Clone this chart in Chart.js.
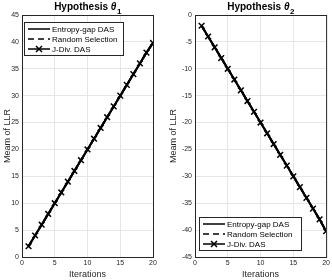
<!DOCTYPE html>
<html>
<head>
<meta charset="utf-8">
<script src="https://cdn.jsdelivr.net/npm/chart.js@4/dist/chart.umd.min.js"></script>
<style>
  body { margin: 0; background: #fff; }
  .wrap { display: flex; width: 332px; height: 280px; }
  .cell { width: 166px; height: 280px; position: relative; }
</style>
</head>
<body>
<div class="wrap">
  <div class="cell"><canvas id="chart1"></canvas></div>
  <div class="cell"><canvas id="chart2"></canvas></div>
</div>
<script>
// values
const iterations = [1,2,3,4,5,6,7,8,9,10,11,12,13,14,15,16,17,18,19,20];
const theta1Entropy = [2,4,6,8,10,12,14,16,18,20,22,24,26,28,30,32,34,36,38,39.8];
const theta1Random  = [2,4,6,8,10,12,14,16,18,20,22,24,26,28,30,32,34,36,38,39.8];
const theta1JDiv    = [2,4,6,8,10,12,14,16,18,20,22,24,26,28,30,32,34,36,38,39.8];
const theta2Entropy = [-2,-4,-6,-8,-10,-12,-14,-16,-18,-20,-22,-24,-26,-28,-30,-32,-34,-36,-38,-40.2];
const theta2Random  = [-2,-4,-6,-8,-10,-12,-14,-16,-18,-20,-22,-24,-26,-28,-30,-32,-34,-36,-38,-40.2];
const theta2JDiv    = [-2,-4,-6,-8,-10,-12,-14,-16,-18,-20,-22,-24,-26,-28,-30,-32,-34,-36,-38,-40.2];
const seriesNames = ['Entropy-gap DAS', 'Random Selection', 'J-Div. DAS'];

const FONT = 'Liberation Sans, Arial, Helvetica, sans-serif';

// box round the plot area, like matlab "box on"
const boxPlugin = {
    id: 'box',
    afterDraw(chart) {
        const a = chart.chartArea, c = chart.ctx;
        c.save();
        c.strokeStyle = '#262626';
        c.lineWidth = 1;
        c.strokeRect(a.left + 0.5, a.top + 0.5, a.right - a.left, a.bottom - a.top);
        c.restore();
    }
};

// title with a real subscript
const subTitle = {
    id: 'subTitle',
    afterDraw(chart, args, opts) {
        const c = chart.ctx, a = chart.chartArea;
        c.save();
        c.fillStyle = '#000';
        c.textBaseline = 'alphabetic';
        const f1 = 'bold 10px ' + FONT;
        const f2 = 'bold italic 10px ' + FONT;
        const f3 = 'bold 8px ' + FONT;
        c.font = f1; const w1 = c.measureText(opts.main + ' ').width;
        c.font = f2; const w2 = c.measureText(opts.sym).width;
        c.font = f3; const w3 = c.measureText(opts.sub).width;
        let x = (a.left + a.right) / 2 - (w1 + w2 + w3) / 2;
        const y = 10;
        c.font = f1; c.fillText(opts.main + ' ', x, y); x += w1;
        c.font = f2; c.fillText(opts.sym, x, y); x += w2 + 0.5;
        c.font = f3; c.fillText(opts.sub, x, y + 3.5);
        c.restore();
    }
};

// legend drawn inside the axes
const innerLegend = {
    id: 'innerLegend',
    afterDraw(chart, args, opts) {
        const c = chart.ctx;
        const a = chart.chartArea;
        const x = a.left + opts.x, y = a.top + opts.y;
        const w = opts.w, rowH = 10, h = 33;
        c.save();
        c.fillStyle = '#fff';
        c.fillRect(x, y, w, h);
        c.strokeStyle = '#262626';
        c.lineWidth = 1;
        c.strokeRect(x + 0.5, y + 0.5, w, h);
        c.font = '8px ' + FONT;
        c.textBaseline = 'middle';
        chart.data.datasets.forEach((ds, i) => {
            const cy = y + 7 + i * rowH;
            c.strokeStyle = '#000';
            c.lineWidth = 1.5;
            c.setLineDash(ds.borderDash || []);
            c.beginPath();
            c.moveTo(x + 4, cy);
            c.lineTo(x + 26, cy);
            c.stroke();
            c.setLineDash([]);
            if (ds.pointStyle === 'crossRot') {
                const m = x + 15, r = 3;
                c.beginPath();
                c.moveTo(m - r, cy - r); c.lineTo(m + r, cy + r);
                c.moveTo(m - r, cy + r); c.lineTo(m + r, cy - r);
                c.stroke();
            }
            c.fillStyle = '#000';
            c.fillText(ds.label, x + 28, cy + 0.5);
        });
        c.restore();
    }
};

function makeDatasets(entropy, random, jdiv) {
    return [
        { label: seriesNames[0], data: entropy, borderColor: '#000', borderWidth: 2, pointRadius: 0 },
        { label: seriesNames[1], data: random, borderColor: '#000', borderWidth: 2, borderDash: [6, 4], pointRadius: 0 },
        { label: seriesNames[2], data: jdiv, borderColor: '#000', borderWidth: 2,
          pointStyle: 'crossRot', pointRadius: 4, pointBorderWidth: 1.5, pointBorderColor: '#000' }
    ];
}

function makeChart(id, sub, entropy, random, jdiv, yMin, yMax, yWidth, padRight, legendPos) {
    return new Chart(document.getElementById(id), {
        type: 'line',
        data: { labels: iterations, datasets: makeDatasets(entropy, random, jdiv) },
        options: {
            responsive: true,
            maintainAspectRatio: false,
            animation: false,
            layout: { padding: { left: 2, right: padRight, top: 15, bottom: 0 } },
            plugins: {
                legend: { display: false },
                tooltip: { enabled: false },
                title: { display: false },
                subTitle: { main: 'Hypothesis', sym: 'θ', sub: sub },
                innerLegend: legendPos
            },
            scales: {
                x: {
                    type: 'linear',
                    min: 0, max: 20,
                    afterFit(s) { s.height = 23; },
                    ticks: { stepSize: 5, color: '#262626', font: { family: FONT, size: 7 }, padding: 2, maxRotation: 0 },
                    grid: { color: '#e6e6e6', drawTicks: false },
                    border: { display: false },
                    title: { display: true, text: 'Iterations', color: '#262626', font: { family: FONT, size: 9 }, padding: 0 }
                },
                y: {
                    min: yMin, max: yMax,
                    afterFit(s) { s.width = yWidth; },
                    ticks: { stepSize: 5, color: '#262626', font: { family: FONT, size: 7 }, padding: 3 },
                    grid: { color: '#e6e6e6', drawTicks: false },
                    border: { display: false },
                    title: { display: true, text: 'Meam of LLR', color: '#262626', font: { family: FONT, size: 9 }, padding: 0 }
                }
            }
        },
        plugins: [boxPlugin, innerLegend, subTitle]
    });
}

makeChart('chart1', '1', theta1Entropy, theta1Random, theta1JDiv, 0, 45, 20, 13, { x: 2, y: 7, w: 99 });
makeChart('chart2', '2', theta2Entropy, theta2Random, theta2JDiv, -45, 0, 27, 4, { x: 4, y: 202, w: 102 });
</script>
</body>
</html>
